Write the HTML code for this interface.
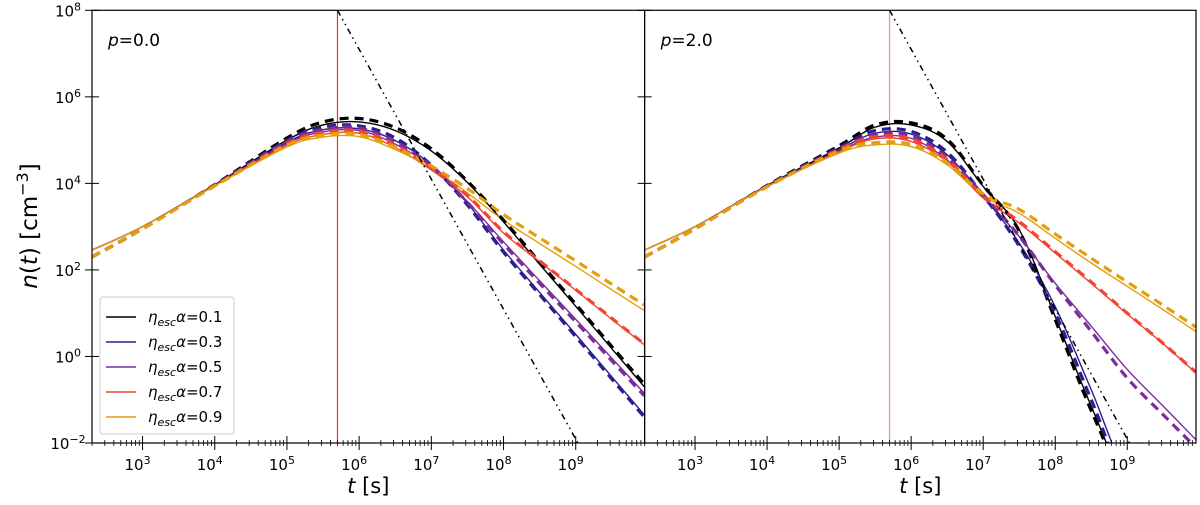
<!DOCTYPE html>
<html><head><meta charset="utf-8"><style>
html,body{margin:0;background:#fff;overflow:hidden;width:1200px;height:505px}
svg{display:block;overflow:hidden;font-family:"DejaVu Sans","Liberation Sans",sans-serif}
</style></head><body>
<svg id="chart" width="1200" height="505" xmlns="http://www.w3.org/2000/svg"></svg>
<script>
const logT = [2.3,3,4,5,5.5,6,6.5,7,7.5,8,8.5,9,9.5,9.95];
const labels = ["0.1","0.3","0.5","0.7","0.9"];
const colors = ["#000000","#2d1e8c","#7a2e9a","#f24430","#e3a00e"];
// panel p=0.0
const p0Black=[2.46,3.0,3.97,5.0,5.35,5.42,5.22,4.75,4.02,3.11,2.13,1.16,0.18,-0.70];
const p0Blue=[2.46,3.0,3.96,4.95,5.24,5.26,4.99,4.42,3.54,2.46,1.48,0.51,-0.47,-1.35];
const p0Purple=[2.46,3.0,3.95,4.92,5.19,5.22,4.91,4.38,3.58,2.65,1.75,0.86,-0.04,-0.85];
const p0Red=[2.46,3.0,3.95,4.88,5.13,5.16,4.83,4.31,3.69,2.85,2.19,1.53,0.86,0.27];
const p0Orange=[2.46,3.0,3.94,4.84,5.07,5.08,4.78,4.35,3.78,3.15,2.61,2.08,1.54,1.06];
const p0BlackD=[2.3,2.95,3.97,5.05,5.42,5.5,5.29,4.80,4.05,3.15,2.18,1.21,0.23,-0.64];
const p0BlueD=[2.3,2.95,3.96,5.0,5.3,5.33,5.05,4.42,3.5,2.41,1.43,0.46,-0.52,-1.40];
const p0PurpleD=[2.3,2.95,3.95,4.96,5.25,5.28,4.97,4.40,3.56,2.6,1.69,0.80,-0.10,-0.91];
const p0RedD=[2.3,2.95,3.95,4.92,5.18,5.21,4.88,4.35,3.72,2.88,2.21,1.55,0.88,0.29];
const p0OrangeD=[2.3,2.95,3.94,4.88,5.12,5.13,4.84,4.4,3.88,3.28,2.74,2.21,1.67,1.19];
// panel p=2.0
const p2Black=[2.46,3.0,3.95,4.82,5.30,5.35,4.97,3.93,2.93,0.92,-1.15,-3.2,-5,-6.5];
const p2Blue=[2.46,3.0,3.94,4.78,5.16,5.14,4.66,3.70,2.62,1.15,-0.77,-2.7,-4.5,-6];
const p2Purple=[2.46,3.0,3.93,4.75,5.07,5.04,4.54,3.70,2.77,1.69,0.70,-0.30,-1.15,-1.92];
const p2Red=[2.46,3.0,3.93,4.73,5.03,4.97,4.50,3.66,3.08,2.39,1.69,0.98,0.29,-0.38];
const p2Orange=[2.46,3.0,3.92,4.70,4.89,4.85,4.43,3.70,3.31,2.73,2.16,1.62,1.08,0.58];
const p2BlackD=[2.3,2.95,3.95,4.87,5.35,5.4,5.02,3.95,2.9,0.85,-1.25,-3.3,-5.1,-6.5];
const p2BlueD=[2.3,2.95,3.94,4.83,5.22,5.2,4.72,3.72,2.55,1.0,-1.0,-3.0,-5,-6.5];
const p2PurpleD=[2.3,2.95,3.93,4.8,5.12,5.1,4.6,3.74,2.78,1.65,0.58,-0.50,-1.35,-2.1];
const p2RedD=[2.3,2.95,3.93,4.78,5.08,5.02,4.55,3.7,3.12,2.42,1.72,1.0,0.30,-0.36];
const p2OrangeD=[2.3,2.95,3.92,4.75,4.94,4.9,4.48,3.76,3.4,2.83,2.27,1.72,1.18,0.68];
const asymT=[5.7,9.03];
const asymN=[8,-2];
const tStar=5.7;
const xTicks=[3,4,5,6,7,8,9];
const yTicks=[-2,0,2,4,6,8];

const NS="http://www.w3.org/2000/svg";
const svg=document.getElementById('chart');
function mk(tag,attrs,parent){const e=document.createElementNS(NS,tag);for(const k in attrs)e.setAttribute(k,attrs[k]);(parent||svg).appendChild(e);return e;}
const X0=2.3,X1=9.954,Y0=-2,Y1=8,PTOP=10.3,PBOT=443;
function yS(v){return PBOT-(v-Y0)/(Y1-Y0)*(PBOT-PTOP);}
function path(xs,ys,xf){
  const P=xs.map((x,i)=>[xf(x),Math.min(482,yS(ys[i]))]);
  let d="M"+P[0][0].toFixed(2)+","+P[0][1].toFixed(2);
  for(let i=0;i<P.length-1;i++){
    const p0=P[Math.max(0,i-1)],p1=P[i],p2=P[i+1],p3=P[Math.min(P.length-1,i+2)];
    const c1=[p1[0]+(p2[0]-p0[0])/6,Math.min(482,p1[1]+(p2[1]-p0[1])/6)];
    const c2=[p2[0]-(p3[0]-p1[0])/6,Math.min(482,p2[1]-(p3[1]-p1[1])/6)];
    d+=" C"+c1.map(v=>v.toFixed(2))+" "+c2.map(v=>v.toFixed(2))+" "+p2[0].toFixed(2)+","+p2[1].toFixed(2);
  }
  return d;
}
const panels=[
 {L:92,R:644.6,name:"p0",label:"p=0.0",solid:[p0Black,p0Blue,p0Purple,p0Red,p0Orange],dash:[p0BlackD,p0BlueD,p0PurpleD,p0RedD,p0OrangeD]},
 {L:644.6,R:1196,name:"p2",label:"p=2.0",solid:[p2Black,p2Blue,p2Purple,p2Red,p2Orange],dash:[p2BlackD,p2BlueD,p2PurpleD,p2RedD,p2OrangeD]}
];
const names=["black","blue","purple","red","orange"];
panels.forEach((p,pi)=>{
  const xf=v=>p.L+(v-X0)/(X1-X0)*(p.R-p.L);
  const g=mk('g',{});
  
  
  const cp=mk('clipPath',{id:'clip'+pi},g);
  mk('rect',{x:p.L,y:PTOP,width:p.R-p.L,height:PBOT-PTOP},cp);
  const plot=mk('g',{'clip-path':'url(#clip'+pi+')'},g);
  const rl=mk('line',{x1:xf(tStar),x2:xf(tStar),y1:PTOP,y2:PBOT,stroke:pi?"#ff8a8a":"#ff2a2a",'stroke-width':1.2},plot);
  
  
  for(let s=0;s<5;s++){
    const sl=mk('path',{d:path(logT,p.solid[s],xf),fill:'none',stroke:colors[s],'stroke-width':1.4},plot);
    
    
  }
  for(let s=0;s<5;s++){
    const dl=mk('path',{d:path(logT,p.dash[s],xf),fill:'none',stroke:colors[s],'stroke-width':3.2,'stroke-dasharray':'9,6'},plot);
    
    
  }
  const al=mk('line',{x1:xf(asymT[0]),y1:yS(asymN[0]),x2:xf(asymT[1]),y2:yS(asymN[1]),stroke:'#000','stroke-width':1.5,'stroke-dasharray':'6,4,1.5,4,1.5,4'},plot);
  
  
  const fr=mk('rect',{x:p.L,y:PTOP,width:p.R-p.L,height:PBOT-PTOP,fill:'none',stroke:'#000','stroke-width':1.2},g);
  
  
  for(let d=2;d<=9;d++)for(let m=1;m<10;m++){
    const v=d+Math.log10(m);if(v<X0||v>X1)continue;
    const x=xf(v);
    if(m===1){mk('line',{x1:x,x2:x,y1:PBOT-7,y2:PBOT+7,stroke:'#000','stroke-width':1},g);}
    else mk('line',{x1:x,x2:x,y1:PBOT-3,y2:PBOT+3,stroke:'#000','stroke-width':0.8},g);
  }
  xTicks.forEach(t=>{
    const tx=mk('text',{x:xf(t)-5,y:PBOT+27,'font-size':15,'text-anchor':'middle'},g);
    
    
    tx.innerHTML='10<tspan dy="-6" font-size="11">'+t+'</tspan>';
  });
  yTicks.forEach(t=>{
    const y=yS(t);
    mk('line',{x1:p.L-7,x2:p.L+7,y1:y,y2:y,stroke:'#000','stroke-width':1},g);
    if(pi===0){
      const ty=mk('text',{x:p.L-24,y:y+6,'font-size':15,'text-anchor':'middle'},g);
      
      
      ty.innerHTML='10<tspan dy="-6" font-size="11">'+(t<0?'\u2212'+(-t):t)+'</tspan>';
    }
  });
  const pl=mk('text',{x:p.L+16,y:46,'font-size':17},g);
  
  
  pl.innerHTML='<tspan font-style="italic">p</tspan>='+p.label.slice(2);
  const xl=mk('text',{x:(p.L+p.R)/2,y:493,'font-size':21,'text-anchor':'middle'},g);
  
  
  xl.innerHTML='<tspan font-style="italic">t</tspan> [s]';
});
const yl=mk('text',{transform:'translate(37,226) rotate(-90)','font-size':23,'text-anchor':'middle'});


yl.innerHTML='<tspan font-style="italic">n</tspan>(<tspan font-style="italic">t</tspan>) [cm<tspan dy="-9" font-size="16">\u22123</tspan><tspan dy="9">]</tspan>';
const lg=mk('g',{});


mk('rect',{x:100,y:297,width:134,height:137,rx:3,fill:'#fff',stroke:'#ccc','stroke-width':1},lg);
labels.forEach((l,i)=>{
  const y=317+i*25;
  const e=mk('g',{},lg);
  
  
  mk('line',{x1:106,x2:136,y1:y,y2:y,stroke:colors[i],'stroke-width':1.6},e);
  const t=mk('text',{x:148,y:y+5,'font-size':15},e);
  t.innerHTML='<tspan font-style="italic">η</tspan><tspan font-style="italic" font-size="11" dy="4">esc</tspan><tspan font-style="italic" dy="-4">α</tspan>='+l;
});
</script>
</body></html>
